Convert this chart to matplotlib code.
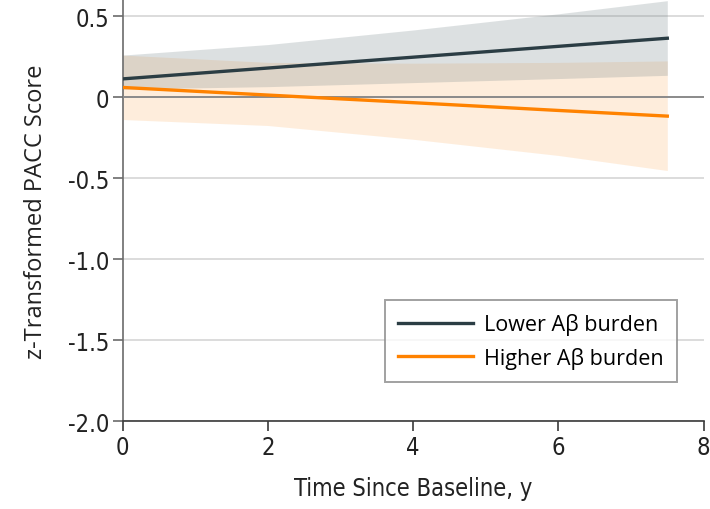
import numpy as np
import matplotlib
matplotlib.use("Agg")
import matplotlib.pyplot as plt

# values
years = [0, 2, 4, 6, 7.5]
lower_mean = [0.113, 0.180, 0.247, 0.314, 0.364]
lower_ci_hi = [0.26, 0.325, 0.415, 0.515, 0.596]
lower_ci_lo = [0.05, 0.065, 0.09, 0.115, 0.135]
higher_mean = [0.06, 0.013, -0.034, -0.082, -0.117]
higher_ci_hi = [0.26, 0.215, 0.21, 0.215, 0.224]
higher_ci_lo = [-0.138, -0.175, -0.26, -0.36, -0.453]

yticks = [-2.0, -1.5, -1.0, -0.5, 0, 0.5]
ytick_labels = ["-2.0", "-1.5", "-1.0", "-0.5", "0", "0.5"]
xticks = [0, 2, 4, 6, 8]

humanist = ["Open Sans", "DejaVu Sans"]
cond = dict(family="DejaVu Sans", stretch="condensed")

dark = "#2b3d44"
orange = "#ff8200"

fig = plt.figure(figsize=(7.1, 5.1), dpi=100)
ax = fig.add_axes([0.173, 0.1725, 0.818, 0.8255])

# bands
ax.fill_between(years, higher_ci_lo, higher_ci_hi, color="#fd8b1a", alpha=0.15, lw=0, zorder=1)
ax.fill_between(years, lower_ci_lo, lower_ci_hi, color="#77878b", alpha=0.25, lw=0, zorder=2)

# grid + zero line
for yv in yticks:
    if yv == 0:
        ax.axhline(yv, color="#8a8a8a", lw=1.4, zorder=3)
    else:
        ax.axhline(yv, color="#dcdcdc", lw=1.4, zorder=0)

ax.plot(years, lower_mean, color=dark, lw=2.4, label="Lower A\u03b2 burden", zorder=4)
ax.plot(years, higher_mean, color=orange, lw=2.4, label="Higher A\u03b2 burden", zorder=4)

ax.set_xlim(0, 8)
ax.set_ylim(-2.0, 0.6)
ax.set_xticks(xticks)
ax.set_xticklabels([str(v) for v in xticks], fontsize=17, **cond)
ax.set_yticks(yticks)
ax.set_yticklabels(ytick_labels, fontsize=17, **cond)

for s in ["top", "right"]:
    ax.spines[s].set_visible(False)
ax.spines["left"].set_color("#6b6b6b")
ax.spines["bottom"].set_color("#3a3a3a")
ax.spines["left"].set_linewidth(1.2)
ax.spines["bottom"].set_linewidth(1.2)
ax.tick_params(axis="y", length=7, width=1.2, color="#6b6b6b", pad=3, labelcolor="#222222")
ax.tick_params(axis="x", length=7, width=1.2, color="#3a3a3a", pad=3, labelcolor="#222222")

ax.set_xlabel("Time Since Baseline, y", fontsize=17, color="#222222", labelpad=12, **cond)
ax.set_ylabel("z-Transformed PACC Score", family=humanist, fontsize=17, color="#222222", labelpad=14)

leg = ax.legend(loc="lower right", bbox_to_anchor=(0.9535, 0.093), frameon=True, fancybox=False,
                prop={"family": humanist, "size": 15.5}, handlelength=3.5, handletextpad=0.5,
                borderpad=0.6, labelspacing=0.55, borderaxespad=0)
leg.get_frame().set_edgecolor("#8a8a8a")
leg.get_frame().set_linewidth(1.4)
for line in leg.get_lines():
    line.set_linewidth(2.4)

fig.savefig("out.png", dpi=100)
